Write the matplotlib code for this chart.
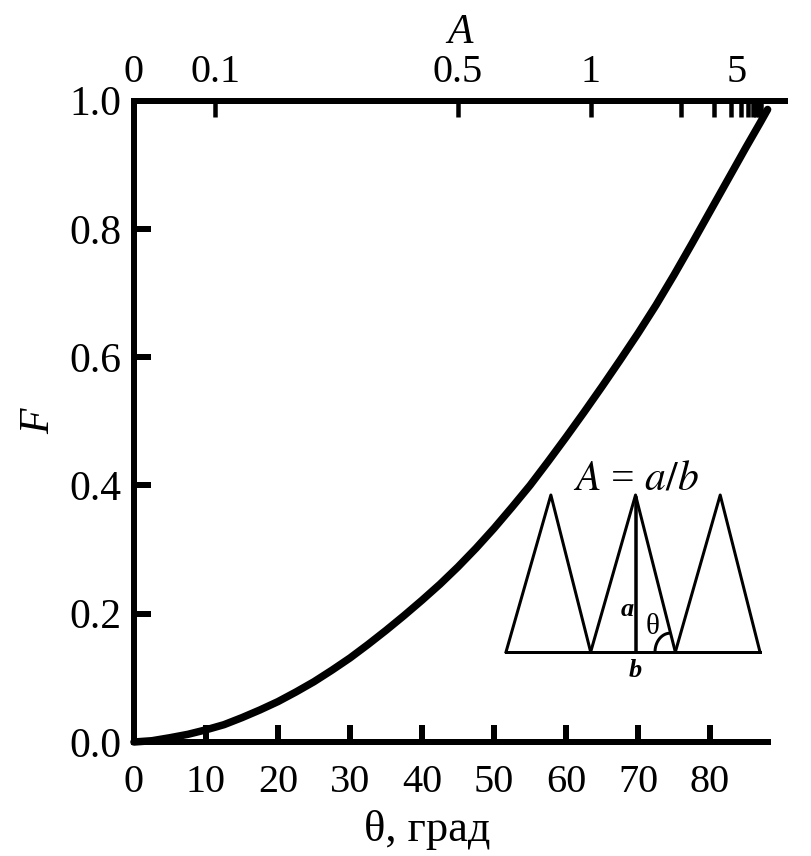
import numpy as np
import matplotlib
matplotlib.use('Agg')
import matplotlib.pyplot as plt
from matplotlib.transforms import ScaledTranslation

# curve
theta = [0, 2.5, 5, 7.5, 10, 12.5, 15, 17.5, 20, 22.5, 25, 27.5, 30, 32.5, 35, 37.5, 40, 42.5, 45,
         47.5, 50, 52.5, 55, 57.5, 60, 62.5, 65, 67.5, 70, 72.5, 75, 77.5, 80, 82.5, 85, 87, 88]
frac = [0, 0.002, 0.0067, 0.012, 0.019, 0.027, 0.038, 0.050, 0.063, 0.078, 0.094, 0.112, 0.131, 0.152, 0.174, 0.197, 0.221, 0.246, 0.273,
        0.302, 0.333, 0.366, 0.400, 0.437, 0.475, 0.514, 0.554, 0.595, 0.637, 0.681, 0.728, 0.777, 0.827, 0.877, 0.927, 0.966, 0.986]

bottom_ticks = [0, 10, 20, 30, 40, 50, 60, 70, 80]
left_ticks = [0.0, 0.2, 0.4, 0.6, 0.8, 1.0]
top_values = [0.1, 0.5, 1, 2, 3, 4, 5, 6, 7, 8, 9, 10]
top_labels = {0.1: '0.1', 0.5: '0.5', 1: '1', 5: '5'}

# inset sketch: left edge of each tooth, in tooth widths
tooth_left = [0, 1, 2]
tooth_peak = 0.53

W, H = 812, 856
plt.rcParams['font.family'] = ['Liberation Serif', 'DejaVu Serif']
plt.rcParams['mathtext.fontset'] = 'stix'
px = 0.72

fig = plt.figure(figsize=(W / 100, H / 100), dpi=100)
L, R, T, B = 134, 785, 100.5, 742
ax = fig.add_axes([L / W, 1 - B / H, (R - L) / W, (B - T) / H])
ax.set_xlim(0, (R - L) / 7.2)
ax.set_ylim(0, 1)

ax.plot(theta, frac, color='black', lw=7.5 * px, solid_capstyle='round', solid_joinstyle='round', clip_on=False)

for side in ['left', 'bottom', 'top']:
    ax.spines[side].set_linewidth(6 * px)
ax.spines['right'].set_visible(False)
ax.spines['bottom'].set_bounds(0, 88)

ax.set_xticks(bottom_ticks)
ax.set_yticks(left_ticks)
ax.set_yticklabels([f'{v:.1f}' for v in left_ticks])
ax.tick_params(axis='x', direction='in', length=17 * px, width=6 * px, labelsize=29, pad=16)
ax.tick_params(axis='y', direction='in', length=17 * px, width=6 * px, labelsize=30, pad=9)
ax.set_xlabel('θ, град', fontsize=32, x=0.45, labelpad=6)
ax.set_ylabel('F', fontsize=30, style='italic', labelpad=8)

# top axis: A = tan(theta) / 2
top = ax.twiny()
top.set_xlim(ax.get_xlim())
for side in ['left', 'right', 'bottom', 'top']:
    top.spines[side].set_visible(False)
top.set_xticks([0] + [np.degrees(np.arctan(2 * v)) for v in top_values])
top.set_xticklabels(['0'] + [top_labels.get(v, '') for v in top_values])
top.tick_params(axis='x', direction='in', length=16 * px, width=4.5 * px, labelsize=29, pad=7)
top.set_xlabel('A', fontsize=30, style='italic', labelpad=8)
for lab in top.get_xticklabels():
    if lab.get_text() == '5':
        lab.set_transform(lab.get_transform() + ScaledTranslation(-4 / 100, 0, fig.dpi_scale_trans))

# inset sketch
ins = fig.add_axes([506 / W, 1 - 652 / H, (760 - 506) / W, (652 - 495) / H])
ins.set_xlim(0, 3)
ins.set_ylim(0, 1)
ins.axis('off')
ins.patch.set_alpha(0)
for t in tooth_left:
    ins.plot([t, t + tooth_peak, t + 1], [0, 1, 0], color='black', lw=3 * px, clip_on=False)
ins.plot([0, 3], [0, 0], color='black', lw=3 * px, clip_on=False)
ins.plot([1 + tooth_peak] * 2, [0, 0.98], color='black', lw=3.5 * px, clip_on=False)
arc_t = np.linspace(0, 1.5, 20)
ins.plot(1.76 + 0.18 * (1 - np.cos(arc_t)), 0.12 * np.sin(arc_t), color='black', lw=3 * px, clip_on=False)
ins.text(1.53, 0.98, r'$A$ = $a/b$', fontsize=30, ha='center', va='bottom')
ins.text(1.43, 0.27, 'a', fontsize=19, style='italic', weight='bold', ha='center', va='center')
ins.text(1.53, -0.12, 'b', fontsize=19, style='italic', weight='bold', ha='center', va='center')
ins.text(1.73, 0.16, 'θ', fontsize=21, ha='center', va='center')

fig.savefig('out.png', dpi=100)
